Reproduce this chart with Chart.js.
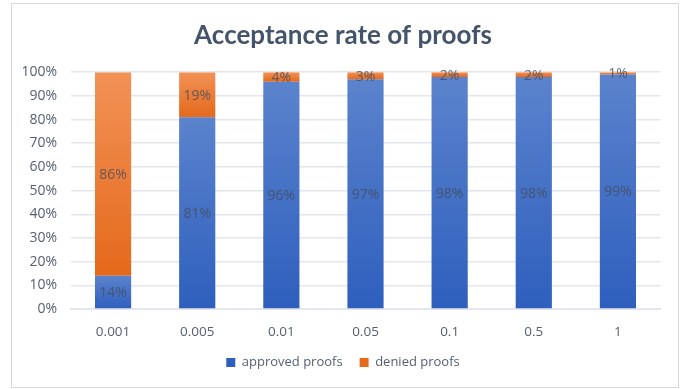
<!DOCTYPE html>
<html>
<head>
<meta charset="utf-8">
<script src="https://cdn.jsdelivr.net/npm/chart.js@4.4.1/dist/chart.umd.min.js"></script>
<style>
  html, body { margin: 0; padding: 0; background: #fff; }
  #wrap { position: relative; width: 686px; height: 389px; }
</style>
</head>
<body>
<div id="wrap"><canvas id="proofsChart" width="686" height="389"></canvas></div>
<script>
"use strict";

const categories = ['0.001', '0.005', '0.01', '0.05', '0.1', '0.5', '1'];
const approved = [14, 81, 96, 97, 98, 98, 99];
const denied = [86, 19, 4, 3, 2, 2, 1];
const yTicks = [0, 10, 20, 30, 40, 50, 60, 70, 80, 90, 100];

const TEXT = '#555f70';

// each segment gets its own top->bottom gradient, like the excel fill
const segmentFill = (light, dark, mid) => (ctx) => {
  if (ctx.type !== 'data') return mid;
  const chart = ctx.chart;
  const y = chart.scales.y;
  if (!y) return mid;
  const base = ctx.datasetIndex === 0 ? 0 : approved[ctx.dataIndex];
  const top = base + ctx.raw;
  const y0 = y.getPixelForValue(top);
  const y1 = y.getPixelForValue(base);
  if (!isFinite(y0) || !isFinite(y1) || y0 === y1) return mid;
  const g = chart.ctx.createLinearGradient(0, y0, 0, y1);
  g.addColorStop(0, light);
  g.addColorStop(1, dark);
  return g;
};

// frame around the whole chart
const framePlugin = {
  id: 'frame',
  beforeDraw: (chart) => {
    const c = chart.ctx;
    c.save();
    c.strokeStyle = '#d9d9d9';
    c.lineWidth = 1;
    c.strokeRect(11.5, 3.5, 667, 384);
    c.restore();
  }
};

// centred value labels on every segment
const valueLabels = {
  id: 'valueLabels',
  afterDatasetsDraw: (chart) => {
    const c = chart.ctx;
    c.save();
    c.font = '14px "Open Sans", sans-serif';
    c.fillStyle = 'rgba(68,76,92,0.8)';
    c.textAlign = 'center';
    c.textBaseline = 'middle';
    chart.data.datasets.forEach((ds, di) => {
      chart.getDatasetMeta(di).data.forEach((bar, i) => {
        const mid = (bar.y + bar.base) / 2;
        c.fillText(ds.data[i] + '%', bar.x, mid + 1);
      });
    });
    c.restore();
  }
};

new Chart(document.getElementById('proofsChart'), {
  type: 'bar',
  data: {
    labels: categories,
    datasets: [{
      label: 'approved proofs',
      data: approved,
      backgroundColor: segmentFill('#5b83cd', '#2e5fbd', '#4472c4'),
      categoryPercentage: 1,
      barPercentage: 0.43
    }, {
      label: 'denied proofs',
      data: denied,
      backgroundColor: segmentFill('#f29257', '#e4691b', '#ed7d31'),
      categoryPercentage: 1,
      barPercentage: 0.43
    }]
  },
  options: {
    responsive: false,
    animation: false,
    layout: { padding: { left: 12, right: 12, top: 0, bottom: 10 } },
    plugins: {
      title: {
        display: true,
        text: 'Acceptance rate of proofs',
        color: '#44546a',
        font: { family: 'Lato', size: 26, weight: 'bold' },
        padding: { top: 20, bottom: 21 }
      },
      legend: {
        position: 'bottom',
        labels: {
          color: TEXT,
          font: { family: '"Open Sans"', size: 13 },
          boxWidth: 9,
          boxHeight: 9,
          padding: 17
        }
      },
      tooltip: { enabled: false }
    },
    scales: {
      x: {
        stacked: true,
        z: 1,
        afterFit: (s) => { s.height = 30; },
        grid: { display: false },
        border: { display: true, color: '#e3e6ec', width: 2 },
        ticks: { color: TEXT, font: { family: '"Open Sans"', size: 13.5 }, padding: 7 }
      },
      y: {
        stacked: true,
        min: 0,
        max: 100,
        afterFit: (s) => { s.width = 59; },
        afterBuildTicks: (s) => { s.ticks = yTicks.map(v => ({ value: v })); },
        grid: { color: '#e3e6ec', lineWidth: 1.5, drawTicks: false },
        border: { display: false },
        ticks: {
          color: TEXT,
          font: { family: '"Open Sans"', size: 14 },
          padding: 14,
          callback: (v) => v + '%'
        }
      },
      // empty right gutter so title and legend stay centred on the frame
      gutter: {
        type: 'linear',
        position: 'right',
        afterFit: (s) => { s.width = 14; },
        grid: { display: false },
        border: { display: false },
        ticks: { display: false }
      }
    }
  },
  plugins: [framePlugin, valueLabels]
});
</script>
</body>
</html>
